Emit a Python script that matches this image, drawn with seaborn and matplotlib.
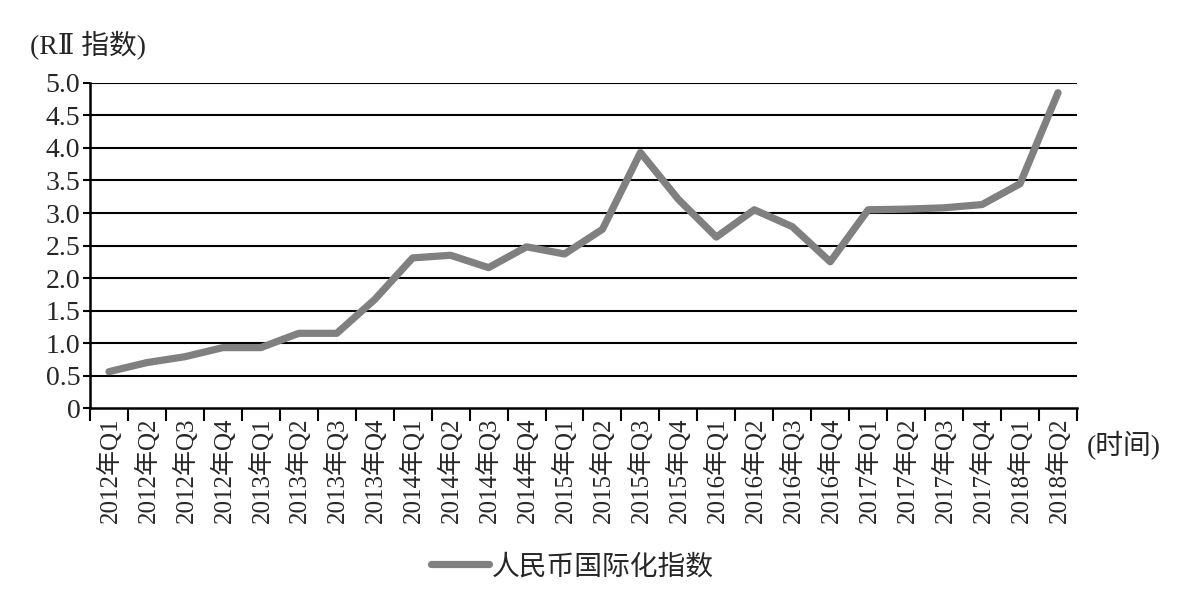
import numpy as np
import pandas as pd
import matplotlib
matplotlib.use('Agg')
import matplotlib.pyplot as plt
import seaborn as sns
from matplotlib.ticker import FixedLocator, FixedFormatter

# Datos del índice de internacionalización del RMB
trimestres = ['2012年Q1', '2012年Q2', '2012年Q3', '2012年Q4',
              '2013年Q1', '2013年Q2', '2013年Q3', '2013年Q4',
              '2014年Q1', '2014年Q2', '2014年Q3', '2014年Q4',
              '2015年Q1', '2015年Q2', '2015年Q3', '2015年Q4',
              '2016年Q1', '2016年Q2', '2016年Q3', '2016年Q4',
              '2017年Q1', '2017年Q2', '2017年Q3', '2017年Q4',
              '2018年Q1', '2018年Q2']
rii = [0.56, 0.70, 0.79, 0.93, 0.93, 1.15, 1.15, 1.67, 2.31, 2.35, 2.16, 2.48,
       2.37, 2.75, 3.93, 3.21, 2.63, 3.05, 2.79, 2.25, 3.05, 3.06, 3.08, 3.13,
       3.45, 4.85]
y_ticks = [0, 0.5, 1.0, 1.5, 2.0, 2.5, 3.0, 3.5, 4.0, 4.5, 5.0]
y_labels = ['0', '0.5', '1.0', '1.5', '2.0', '2.5', '3.0', '3.5', '4.0', '4.5', '5.0']
serie = '人民币国际化指数'

df = pd.DataFrame({'pos': np.arange(len(trimestres)), 'rii': rii, 'serie': serie})

sns.set_style('white')
plt.rcParams['font.family'] = ['Liberation Serif', 'Noto Sans CJK SC', 'DejaVu Sans']

fig = plt.figure(figsize=(11.92, 6.10), dpi=100)
ax = fig.add_axes([0.0755, 0.331, 0.828, 0.533])

sns.lineplot(data=df, x='pos', y='rii', hue='serie', palette=['#808080'],
             linewidth=5.2, sort=False, ax=ax, legend=False)

# Rejilla horizontal negra
for v in y_ticks[1:]:
    ax.axhline(v, color='black', linewidth=1.5, zorder=0)

ax.set_xlim(-0.5, len(trimestres) - 0.5)
ax.set_ylim(0, 5.0)
ax.yaxis.set_major_locator(FixedLocator(y_ticks))
ax.yaxis.set_major_formatter(FixedFormatter(y_labels))
ax.tick_params(axis='y', direction='out', length=5, width=1.5, color='black',
               labelsize=20, pad=2, left=True)

ax.set_xticks(np.arange(len(trimestres)))
ax.set_xticklabels(trimestres, rotation=90, fontsize=18)
ax.tick_params(axis='x', which='major', length=0, pad=7)
ax.xaxis.set_minor_locator(FixedLocator(np.arange(-0.5, len(trimestres), 1.0)))
ax.tick_params(axis='x', which='minor', direction='out', length=9, width=1.5,
               color='black', bottom=True)

for s in ['top', 'right']:
    ax.spines[s].set_visible(False)
for s in ['left', 'bottom']:
    ax.spines[s].set_color('black')
    ax.spines[s].set_linewidth(1.8)

ax.set_xlabel('')
ax.set_ylabel('')

fig.text(0.025, 0.925, '(RⅡ 指数)', fontsize=20, ha='left', va='center',
         family=['Liberation Serif', 'DejaVu Serif', 'Noto Sans CJK SC'])
fig.text(0.912, 0.27, '(时间)', fontsize=20, ha='left', va='center')

handle = plt.Line2D([], [], color='#808080', linewidth=5.2, solid_capstyle='round')
fig.legend([handle], [serie], loc='center', bbox_to_anchor=(0.48, 0.07),
           frameon=False, fontsize=20, handlelength=2.1, handletextpad=0.1)

fig.savefig('out.png', dpi=100)
